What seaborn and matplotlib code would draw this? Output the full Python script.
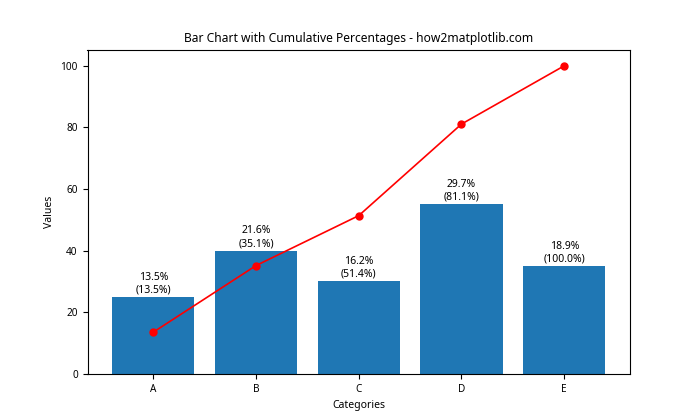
import matplotlib
matplotlib.use("Agg")
import matplotlib.pyplot as plt
import numpy as np
import seaborn as sns

categories = ["A", "B", "C", "D", "E"]
values = [25, 40, 30, 55, 35]

plt.rcParams["font.family"] = ["Noto Sans", "DejaVu Sans"]

total = sum(values)
percentages = [v / total * 100 for v in values]
cumulative = np.cumsum(percentages)

fig, ax = plt.subplots(figsize=(7, 4.2), dpi=100)
sns.barplot(x=categories, y=values, color="#1f77b4", saturation=1, width=0.8, ax=ax)
ax.plot(categories, cumulative, "ro-", markersize=5, linewidth=1.2)

for i, (v, p, c) in enumerate(zip(values, percentages, cumulative)):
    ax.text(i, v + 0.5, f"{p:.1f}%\n({c:.1f}%)", ha="center", va="bottom", fontsize=7.5)

ax.set_title("Bar Chart with Cumulative Percentages - how2matplotlib.com", fontsize=8.7)
ax.set_xlabel("Categories", fontsize=7.5)
ax.set_ylabel("Values", fontsize=7.5)
ax.tick_params(labelsize=7.2)
ax.set_ylim(0, 105)

fig.savefig("out.png", dpi=100)
